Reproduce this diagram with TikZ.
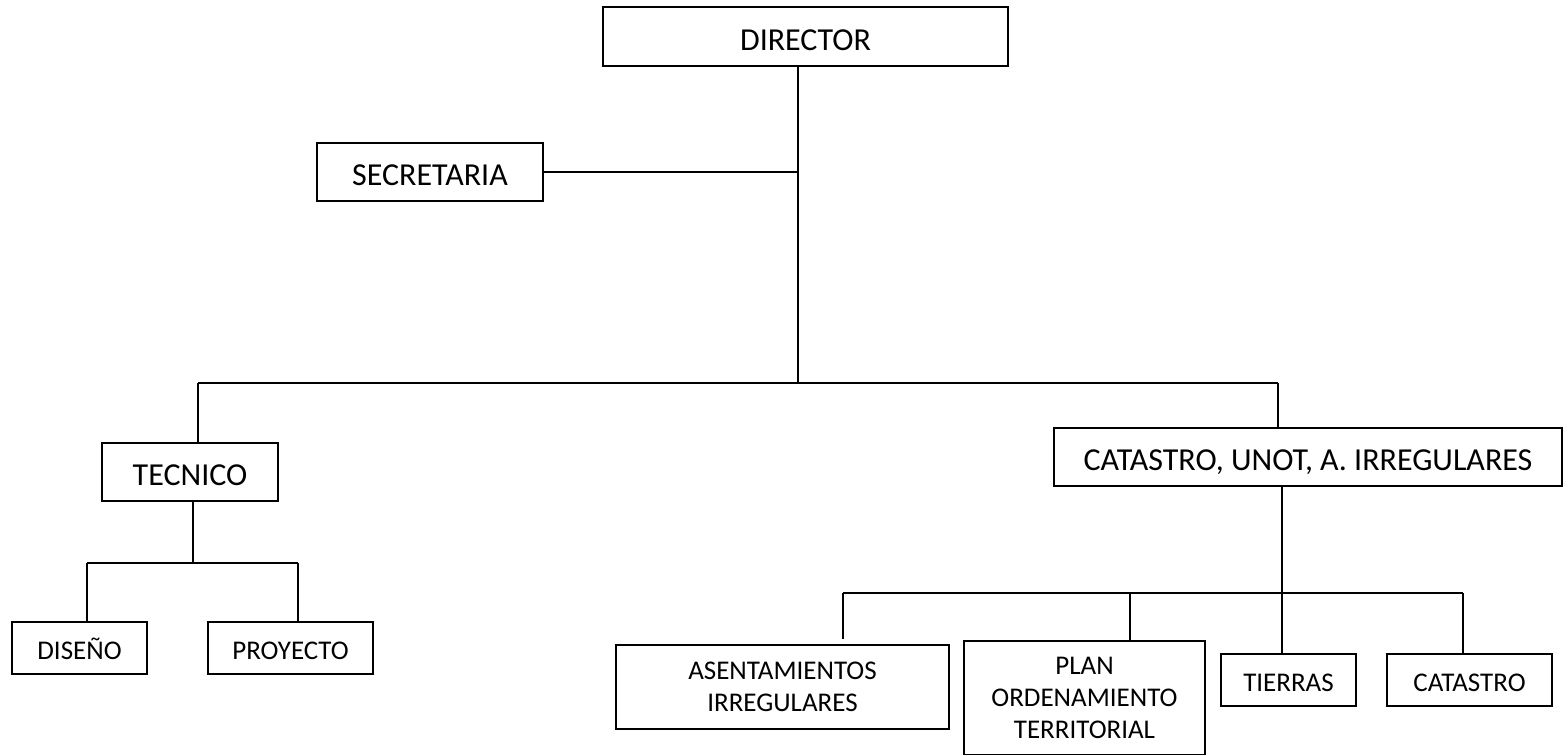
\documentclass[tikz,border=0pt]{standalone}
\usepackage{fontspec}
\setmainfont{Carlito}
\begin{document}
\begin{tikzpicture}[x=0.5pt,y=-0.5pt,
  box/.style={draw, line width=1.2pt, inner sep=0pt, anchor=center},
  big/.style={box, font=\fontsize{16}{19}\selectfont, text height=13.8pt, text depth=0pt},
  small/.style={box, font=\fontsize{13.5}{16}\selectfont, text height=11.7pt, text depth=0pt},
  multi/.style={box, font=\fontsize{13.5}{15.8}\selectfont, align=center},
  link/.style={line width=1pt}]
\useasboundingbox (0,0) rectangle (1565,755);

% boxes
\node[big, minimum width=202.5pt, minimum height=29.5pt] (dir) at (805.5,36.5) {DIRECTOR};
\node[big, minimum width=113pt, minimum height=29pt] (sec) at (430,172) {SECRETARIA};
\node[big, minimum width=88pt, minimum height=29pt] (tec) at (190,472) {TECNICO};
\node[big, minimum width=254pt, minimum height=29pt] (cat) at (1308,457) {CATASTRO, UNOT, A. IRREGULARES};
\node[small, minimum width=67.5pt, minimum height=26pt] (dis) at (79.5,648) {DISEÑO};
\node[small, minimum width=82.5pt, minimum height=26pt] (pro) at (290.5,648) {PROYECTO};
\node[multi, minimum width=166.5pt, minimum height=42pt] (ase) at (782.5,687) {ASENTAMIENTOS\\IRREGULARES};
\node[multi, minimum width=120.5pt, minimum height=57pt] (pla) at (1084.5,698) {PLAN\\ORDENAMIENTO\\TERRITORIAL};
\node[small, minimum width=67.5pt, minimum height=26pt] (tie) at (1288.5,680) {TIERRAS};
\node[small, minimum width=82.5pt, minimum height=26pt] (cas) at (1469.5,680) {CATASTRO};

% junction coordinates
\coordinate (b1) at (798,383);
\coordinate (bL) at (198,383);
\coordinate (bR) at (1278,383);
\coordinate (t1) at (193,563);
\coordinate (tL) at (87,563);
\coordinate (tR) at (298,563);
\coordinate (c1) at (1282,593);
\coordinate (cL) at (843,593);
\coordinate (cP) at (1130,593);
\coordinate (cR) at (1463,593);
\coordinate (aEnd) at (843,639);

% top level
\draw[link] (dir.south -| b1) -- (b1);
\draw[link] (sec.east) -- (sec.east -| b1);
\draw[link] (bL) -- (bR);
\draw[link] (bL) -- (bL |- tec.north);
\draw[link] (bR) -- (cat.north -| bR);

% tecnico branch
\draw[link] (tec.south -| t1) -- (t1);
\draw[link] (tL) -- (tR);
\draw[link] (tL) -- (tL |- dis.north);
\draw[link] (tR) -- (tR |- pro.north);

% catastro branch
\draw[link] (cat.south -| c1) -- (c1);
\draw[link] (cL) -- (cR);
\draw[link] (cL) -- (aEnd);
\draw[link] (cP) -- (cP |- pla.north);
\draw[link] (c1) -- (c1 |- tie.north);
\draw[link] (cR) -- (cR |- cas.north);
\end{tikzpicture}
\end{document}
